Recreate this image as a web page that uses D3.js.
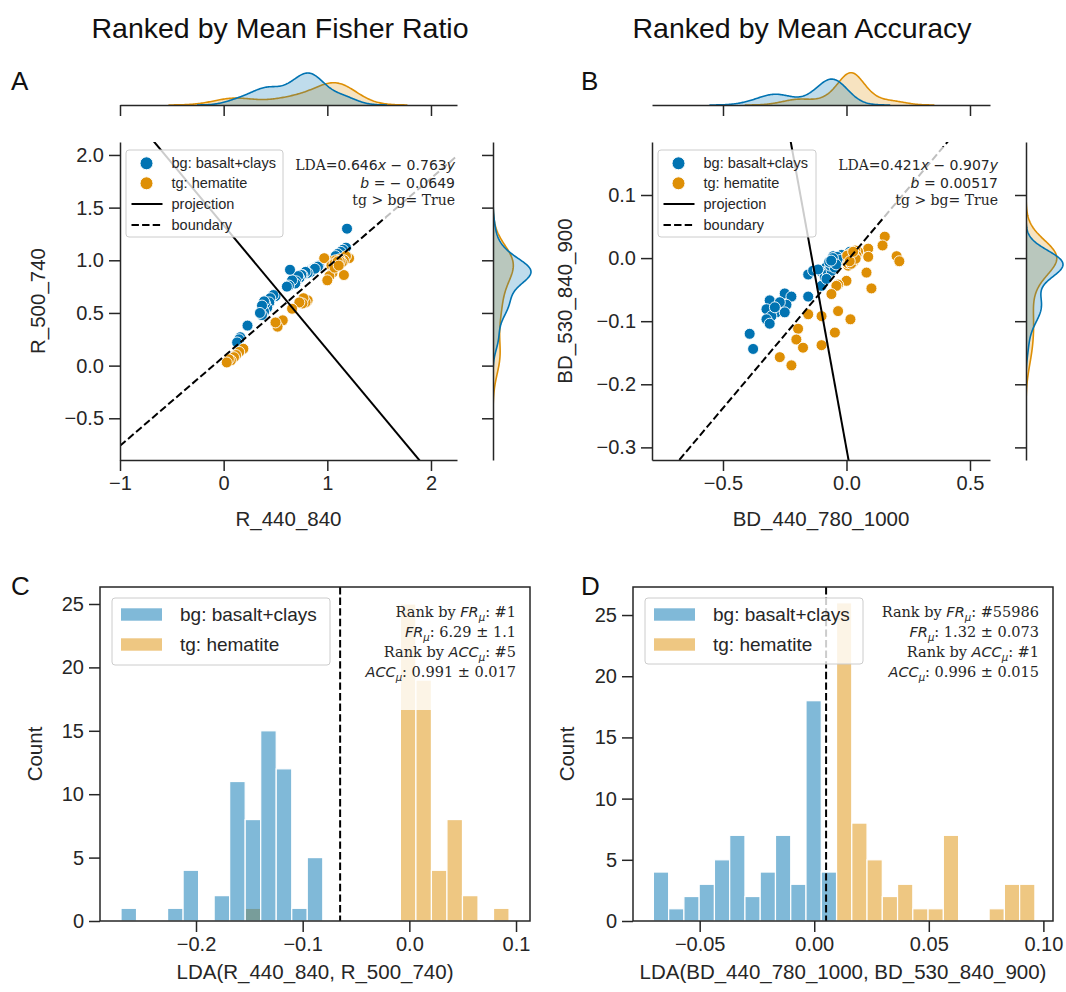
<!DOCTYPE html>
<html><head><meta charset="utf-8">
<script src="https://cdn.jsdelivr.net/npm/d3@7"></script>
<style>body{margin:0;background:#fff}svg{display:block}</style>
</head><body>
<svg id="c" width="1066" height="992"></svg>
<script>
// ---------------- DATA ----------------
const bgA = [[1.19,1.30],[1.18,1.12],[1.15,1.10],[1.13,1.08],[1.10,1.06],[1.08,1.04],
[0.92,0.95],[0.90,0.94],[0.88,0.93],[0.86,0.92],[0.84,0.90],[0.85,0.91],[0.82,0.89],[0.80,0.88],
[0.87,0.92],[0.89,0.93],[0.83,0.90],[0.86,0.91],[0.91,0.94],[0.84,0.89],[0.88,0.92],[0.81,0.88],
[0.79,0.89],[0.76,0.86],[0.75,0.86],[0.73,0.83],[0.72,0.85],[0.70,0.80],[0.69,0.78],[0.66,0.81],[0.64,0.91],[0.63,0.76],[0.61,0.75],
[0.50,0.66],[0.48,0.67],[0.45,0.64],[0.44,0.60],[0.42,0.55],[0.40,0.59],[0.39,0.61],[0.39,0.51],[0.37,0.57],[0.37,0.48],[0.35,0.50],
[0.23,0.38],[0.16,0.27],[0.15,0.25],[0.13,0.22]];
const tgA = [[1.21,1.02],[1.18,1.04],[1.16,1.00],[1.12,1.01],[1.10,0.97],[1.05,0.98],[1.03,0.99],[0.97,1.02],[1.08,1.00],[1.14,0.98],
[1.06,0.96],[1.09,0.98],[1.12,0.99],[1.04,0.95],[1.07,0.97],[1.10,0.99],
[1.16,0.86],[1.05,0.88],[1.02,0.85],[1.00,0.81],[1.07,0.93],[1.11,0.95],
[0.81,0.62],[0.79,0.60],[0.77,0.64],[0.76,0.59],[0.73,0.60],[0.66,0.54],
[0.57,0.43],[0.52,0.37],[0.50,0.41],
[0.19,0.16],[0.15,0.13],[0.12,0.10],[0.10,0.08],[0.07,0.05],[0.05,0.06],[0.03,0.03]];
const bgB = [[0.014,0.010],[-0.054,0.003],[-0.007,0.002],[-0.020,0.005],[-0.035,-0.002],
[-0.061,-0.011],[-0.081,-0.014],[-0.101,-0.022],[-0.088,-0.030],[-0.041,-0.006],[-0.068,-0.017],[-0.050,-0.010],[-0.075,-0.025],[-0.030,0.000],[-0.060,-0.020],
[-0.045,-0.004],[-0.058,-0.008],[-0.038,0.002],[-0.065,-0.012],[-0.048,-0.015],[-0.025,-0.003],[-0.070,-0.006],[-0.055,0.000],[-0.042,-0.010],[-0.062,-0.004],
[-0.155,-0.026],[-0.135,-0.020],[-0.115,-0.018],[-0.101,-0.044],[-0.081,-0.033],[-0.155,-0.061],
[-0.250,-0.056],[-0.223,-0.061],[-0.243,-0.074],[-0.311,-0.067],[-0.324,-0.081],[-0.284,-0.086],[-0.304,-0.092],[-0.324,-0.097],[-0.311,-0.104],[-0.250,-0.086],[-0.270,-0.070],[-0.290,-0.078],
[-0.392,-0.120],[-0.378,-0.144]];
const tgB = [[0.155,0.034],[0.146,0.020],[0.088,0.015],[0.088,0.002],[0.047,0.010],[0.014,-0.006],[0.007,-0.012],[0.203,0.003],[0.214,-0.005],[0.081,-0.023],
[0.000,-0.036],[-0.034,-0.042],[-0.041,-0.044],[-0.061,-0.057],[0.101,-0.048],[-0.155,-0.089],[-0.101,-0.092],[-0.034,-0.084],[0.016,-0.097],
[-0.196,-0.112],[-0.203,-0.129],[-0.176,-0.142],[-0.047,-0.118],[-0.101,-0.138],[-0.270,-0.157],[-0.223,-0.170],
[0.020,0.005],[0.030,0.008],[0.010,0.000],[0.025,-0.002],[0.035,0.012],[0.005,-0.008],[0.040,0.004],[0.018,-0.004],
[0.012,0.003],[0.022,0.001],[0.028,-0.006],[0.015,0.007],[0.008,-0.003],[0.032,0.002],[0.019,-0.009],[0.024,0.006],[0.003,0.004],[0.037,-0.001],[0.013,-0.005],[0.027,0.010]];
const wA = [0.646, -0.763], bA = -0.0649, anchorA = [0.62, 0.60];
const wB = [0.421, -0.907], bB = 0.00517, anchorB = [-0.114, -0.0565];

const binStartC = -0.2703, binWidthC = 0.01455;
const countsC_bg = [1,0,0,1,4,0,2,11,8,15,12,1,5,0,0,0,0,0,0,0,0,0,0,0,0];
const countsC_tg = [0,0,0,0,0,0,0,0,1,0,0,0,0,0,0,0,0,0,25,19,4,8,2,0,1];
const binStartD = -0.0702, binWidthD = 0.00666;
const countsD_bg = [4,1,2,3,5,7,2,4,7,3,18,4,0,0,0,0,0,0,0,0,0,0,0,0,0];
const countsD_tg = [0,0,0,0,0,0,0,0,0,0,0,0,26,8,5,2,3,1,1,7,0,0,1,3,3];

const xTicksA = [-1,0,1,2], yTicksA = [-0.5,0,0.5,1,1.5,2];
const xTicksB = [-0.5,0,0.5], yTicksB = [-0.3,-0.2,-0.1,0,0.1];
const xTicksC = [-0.2,-0.1,0,0.1], xTicksD = [-0.05,0,0.05,0.10];
const yTicksHist = [0,5,10,15,20,25];
const titles = ["Ranked by Mean Fisher Ratio","Ranked by Mean Accuracy"];
const letters = ["A","B","C","D"];
const legendLabels = ["bg: basalt+clays","tg: hematite","projection","boundary"];

// ---------------- STYLE ----------------
const BLUE="#0173b2", ORANGE="#de8f05", AX="#262626";
const SANS="'Liberation Sans', Arial, Helvetica, sans-serif";
const SERIF="'DejaVu Serif', serif", MATH="'DejaVu Sans', sans-serif";
const TICKFS=20, LABFS=20.5, TICKLEN=11, PAD=5;
const svg = d3.select("#c");
const defs = svg.append("defs");
let clipN=0;
function clip(x0,y0,x1,y1){const id="cl"+(clipN++);defs.append("clipPath").attr("id",id).append("rect").attr("x",x0).attr("y",y0).attr("width",x1-x0).attr("height",y1-y0);return "url(#"+id+")";}
function styleAxis(g){g.selectAll(".domain").attr("stroke",AX).attr("stroke-width",1.5);
 g.selectAll(".tick line").attr("stroke",AX).attr("stroke-width",1.5);
 g.selectAll("text").attr("font-family",SANS).attr("font-size",TICKFS).attr("fill",AX);}
function rich(g,x,y,parts,fs){const t=g.append("text").attr("x",x).attr("y",y).attr("text-anchor","end").attr("font-size",fs).attr("fill",AX);
 parts.forEach(p=>{const s=t.append("tspan").text(p.t).attr("font-family",p.m?MATH:SERIF);
  if(p.i)s.attr("font-style","italic"); if(p.sub){s.attr("dy",4).attr("font-size",fs*0.7);} if(p.up)s.attr("dy",-4);});}
function kde(vals,grid,N){const n=vals.length,sd=d3.deviation(vals),bw=sd*Math.pow(n,-0.2);
 return grid.map(g=>[g,d3.sum(vals,v=>Math.exp(-0.5*((g-v)/bw)**2))/(n*bw*Math.sqrt(2*Math.PI))*n/N]);}
function kdeGrid(vals){const n=vals.length,sd=d3.deviation(vals),bw=sd*Math.pow(n,-0.2);
 const lo=d3.min(vals)-3*bw,hi=d3.max(vals)+3*bw;return d3.range(201).map(i=>lo+(hi-lo)*i/200);}

// titles & letters
svg.append("text").attr("x",280).attr("y",38).attr("text-anchor","middle").attr("font-family",SANS).attr("font-size",28.5).attr("fill","#111").text(titles[0]);
svg.append("text").attr("x",802).attr("y",38).attr("text-anchor","middle").attr("font-family",SANS).attr("font-size",28.5).attr("fill","#111").text(titles[1]);
[[11,90],[581,90],[11,595],[581,595]].forEach((p,i)=>svg.append("text").attr("x",p[0]).attr("y",p[1]).attr("font-family",SANS).attr("font-size",26).attr("fill","#111").text(letters[i]));

function scatterPanel(c){
 const X=d3.scaleLinear(c.xDom,[c.px0,c.px1]), Y=d3.scaleLinear(c.yDom,[c.py1,c.py0]);
 const g=svg.append("g");
 const pg=g.append("g").attr("clip-path",clip(c.px0,c.py0,c.px1,c.py1));
 [[c.bg,BLUE],[c.tg,ORANGE]].forEach(([d,col])=>pg.selectAll(null).data(d).enter().append("circle")
   .attr("cx",p=>X(p[0])).attr("cy",p=>Y(p[1])).attr("r",5.5).attr("fill",col).attr("stroke","#fff").attr("stroke-width",0.9));
 const w=c.w,b=c.b;
 const bnd=c.xDom.map(x=>[x,(b-w[0]*x)/w[1]]);
 pg.append("path").attr("d",d3.line().x(p=>X(p[0])).y(p=>Y(p[1]))(bnd)).attr("stroke","#000").attr("stroke-width",2).attr("stroke-dasharray","7.4,3.2").attr("fill","none");
 const prj=[-20,20].map(t=>[c.anchor[0]+t*w[0],c.anchor[1]+t*w[1]]);
 pg.append("path").attr("d",d3.line().x(p=>X(p[0])).y(p=>Y(p[1]))(prj)).attr("stroke","#000").attr("stroke-width",2).attr("fill","none");
 // legend
 const L=c.leg;
 g.append("rect").attr("x",L[0]).attr("y",L[1]).attr("width",L[2]).attr("height",L[3]).attr("rx",3).attr("fill","#fff").attr("fill-opacity",0.8).attr("stroke","#ccc");
 const lx=L[0]+20.5, tx=L[0]+45.5, rows=[13.3,33.3,54,75].map(d=>L[1]+d);
 g.append("circle").attr("cx",lx).attr("cy",rows[0]).attr("r",6.5).attr("fill",BLUE).attr("stroke","#fff");
 g.append("circle").attr("cx",lx).attr("cy",rows[1]).attr("r",6.5).attr("fill",ORANGE).attr("stroke","#fff");
 g.append("line").attr("x1",lx-15).attr("x2",lx+16).attr("y1",rows[2]).attr("y2",rows[2]).attr("stroke","#000").attr("stroke-width",2);
 g.append("line").attr("x1",lx-15).attr("x2",lx+14).attr("y1",rows[3]).attr("y2",rows[3]).attr("stroke","#000").attr("stroke-width",2).attr("stroke-dasharray","7.4,3.2");
 legendLabels.forEach((s,i)=>g.append("text").attr("x",tx).attr("y",rows[i]+5).attr("font-family",SANS).attr("font-size",14.5).attr("fill",AX).text(s));
 // annotation
 g.append("rect").attr("x",c.ann[0]).attr("y",147).attr("width",c.ann[1]-c.ann[0]).attr("height",71).attr("fill","#fff").attr("fill-opacity",0.75);
 const ax=c.ann[2];
 rich(g,ax,170,[{t:"LDA="},{t:c.lda[0],m:1},{t:"x",m:1,i:1},{t:c.lda[1],m:1},{t:"y",m:1,i:1}],14);
 rich(g,ax,187.5,[{t:"b",m:1,i:1},{t:c.bt,m:1}],14);
 rich(g,ax,205,[{t:"tg > bg= True"}],14);
 // axes
 styleAxis(g.append("g").attr("transform",`translate(0,${c.py1})`).call(d3.axisBottom(X).tickValues(c.xTicks).tickFormat(c.xFmt).tickSize(TICKLEN).tickSizeOuter(0).tickPadding(PAD)));
 styleAxis(g.append("g").attr("transform",`translate(${c.px0},0)`).call(d3.axisLeft(Y).tickValues(c.yTicks).tickFormat(d3.format(".1f")).tickSize(TICKLEN).tickSizeOuter(0).tickPadding(PAD)));
 g.append("text").attr("x",(c.px0+c.px1)/2).attr("y",c.py1+66).attr("text-anchor","middle").attr("font-family",SANS).attr("font-size",LABFS).attr("fill",AX).text(c.xLabel);
 g.append("text").attr("transform",`translate(${c.ylx},${(c.py0+c.py1)/2}) rotate(-90)`).attr("text-anchor","middle").attr("font-family",SANS).attr("font-size",LABFS).attr("fill",AX).text(c.yLabel);
 // top marginal
 const N=c.bg.length+c.tg.length;
 const tg_=g.append("g").attr("clip-path",clip(c.px0,40,c.px1,c.mTopBase));
 const kx=[c.tg,c.bg].map(d=>{const v=d.map(p=>p[0]);return kde(v,kdeGrid(v),N);});
 const mx=d3.max(kx.flat(),p=>p[1]);
 const H=d3.scaleLinear([0,mx],[c.mTopBase,c.mTopPeak]);
 kx.forEach((k,i)=>{const col=i?BLUE:ORANGE;
  tg_.append("path").attr("d",d3.area().x(p=>X(p[0])).y0(c.mTopBase).y1(p=>H(p[1]))(k)).attr("fill",col).attr("fill-opacity",0.25);
  tg_.append("path").attr("d",d3.line().x(p=>X(p[0])).y(p=>H(p[1]))(k)).attr("fill","none").attr("stroke",col).attr("stroke-width",1.6);});
 styleAxis(g.append("g").attr("transform",`translate(0,${c.mTopBase})`).call(d3.axisBottom(X).tickValues(c.xTicks).tickFormat("").tickSize(TICKLEN).tickSizeOuter(0)));
 // right marginal
 const rg=g.append("g").attr("clip-path",clip(c.mRBase,c.py0,c.mRBase+60,c.py1));
 const ky=[c.tg,c.bg].map(d=>{const v=d.map(p=>p[1]);return kde(v,kdeGrid(v),N);});
 const my=d3.max(ky.flat(),p=>p[1]);
 const W=d3.scaleLinear([0,my],[c.mRBase,c.mRPeak]);
 ky.forEach((k,i)=>{const col=i?BLUE:ORANGE;
  rg.append("path").attr("d",d3.area().y(p=>Y(p[0])).x0(c.mRBase).x1(p=>W(p[1]))(k)).attr("fill",col).attr("fill-opacity",0.25);
  rg.append("path").attr("d",d3.line().y(p=>Y(p[0])).x(p=>W(p[1]))(k)).attr("fill","none").attr("stroke",col).attr("stroke-width",1.6);});
 styleAxis(g.append("g").attr("transform",`translate(${c.mRBase},0)`).call(d3.axisLeft(Y).tickValues(c.yTicks).tickFormat("").tickSize(TICKLEN).tickSizeOuter(0)));
}

scatterPanel({px0:120,px1:457,py0:142,py1:460,xDom:[-1,2.251],yDom:[-0.896,2.123],bg:bgA,tg:tgA,w:wA,b:bA,anchor:anchorA,
 xTicks:xTicksA,yTicks:yTicksA,xFmt:d3.format("d"),xLabel:"R_440_840",yLabel:"R_500_740",ylx:45,
 leg:[126,150,157,87],ann:[288,462,455],lda:["0.646"," − 0.763"],bt:" = − 0.0649",
 mTopBase:105,mTopPeak:73,mRBase:493,mRPeak:531});
scatterPanel({px0:652,px1:990,py0:142,py1:460,xDom:[-0.7874,0.581],yDom:[-0.320,0.184],bg:bgB,tg:tgB,w:wB,b:bB,anchor:anchorB,
 xTicks:xTicksB,yTicks:yTicksB,xFmt:d3.format(".1f"),xLabel:"BD_440_780_1000",yLabel:"BD_530_840_900",ylx:572,
 leg:[658,150,158,87],ann:[825,1002,998],lda:["0.421"," − 0.907"],bt:" = 0.00517",
 mTopBase:105,mTopPeak:72.7,mRBase:1026,mRPeak:1063});

function histPanel(c){
 const X=d3.scaleLinear(c.xDom,[c.px0,c.px1]), Y=d3.scaleLinear(c.yDom,[c.py1,c.py0]);
 const g=svg.append("g");
 const bars=g.append("g").attr("clip-path",clip(c.px0,c.py0,c.px1,c.py1));
 [[c.ctg,ORANGE],[c.cbg,BLUE]].forEach(([cnt,col])=>bars.selectAll(null).data(cnt.map((v,i)=>[i,v]).filter(d=>d[1]>0)).enter().append("rect")
  .attr("x",d=>X(c.start+d[0]*c.width)).attr("width",d=>X(c.start+(d[0]+1)*c.width)-X(c.start+d[0]*c.width))
  .attr("y",d=>Y(d[1])).attr("height",d=>Y(0)-Y(d[1])).attr("fill",col).attr("fill-opacity",0.5).attr("stroke","#fff").attr("stroke-width",1.2));
 g.append("line").attr("x1",X(c.b)).attr("x2",X(c.b)).attr("y1",c.py0).attr("y2",c.py1).attr("stroke","#000").attr("stroke-width",2).attr("stroke-dasharray","7.4,3.2");
 // annotation
 g.append("rect").attr("x",c.ann[0]).attr("y",592).attr("width",c.ann[1]-c.ann[0]).attr("height",118).attr("fill","#fff").attr("fill-opacity",0.8);
 const ax=c.ann[2];
 rich(g,ax,617,[{t:"Rank by "},{t:"FR",m:1,i:1},{t:"μ",m:1,i:1,sub:1},{t:": "+c.t[0],up:1}],14.5);
 rich(g,ax,637,[{t:"FR",m:1,i:1},{t:"μ",m:1,i:1,sub:1},{t:": "+c.t[1],up:1}],14.5);
 rich(g,ax,657,[{t:"Rank by "},{t:"ACC",m:1,i:1},{t:"μ",m:1,i:1,sub:1},{t:": "+c.t[2],up:1}],14.5);
 rich(g,ax,677,[{t:"ACC",m:1,i:1},{t:"μ",m:1,i:1,sub:1},{t:": "+c.t[3],up:1}],14.5);
 // legend
 const L=c.leg;
 g.append("rect").attr("x",L[0]).attr("y",L[1]).attr("width",L[2]).attr("height",L[3]).attr("rx",3).attr("fill","#fff").attr("fill-opacity",0.8).attr("stroke","#ccc");
 [[BLUE,0],[ORANGE,1]].forEach(([col,i])=>{const yy=L[1]+16.5+i*30;
  g.append("rect").attr("x",L[0]+9).attr("y",yy-6.2).attr("width",41).attr("height",12.4).attr("fill",col).attr("fill-opacity",0.5);
  g.append("text").attr("x",L[0]+68).attr("y",yy+6.5).attr("font-family",SANS).attr("font-size",19).attr("fill",AX).text(legendLabels[i]);});
 // frame & axes
 g.append("rect").attr("x",c.px0).attr("y",c.py0).attr("width",c.px1-c.px0).attr("height",c.py1-c.py0).attr("fill","none").attr("stroke",AX).attr("stroke-width",1.5);
 styleAxis(g.append("g").attr("transform",`translate(0,${c.py1})`).call(d3.axisBottom(X).tickValues(c.xTicks).tickFormat(c.xFmt).tickSize(TICKLEN).tickSizeOuter(0).tickPadding(PAD)));
 styleAxis(g.append("g").attr("transform",`translate(${c.px0},0)`).call(d3.axisLeft(Y).tickValues(yTicksHist).tickFormat(d3.format("d")).tickSize(TICKLEN).tickSizeOuter(0).tickPadding(PAD)));
 g.selectAll(".domain").remove();
 g.append("text").attr("x",(c.px0+c.px1)/2).attr("y",c.py1+58).attr("text-anchor","middle").attr("font-family",SANS).attr("font-size",LABFS).attr("fill",AX).text(c.xLabel);
 g.append("text").attr("transform",`translate(${c.ylx},${(c.py0+c.py1)/2}) rotate(-90)`).attr("text-anchor","middle").attr("font-family",SANS).attr("font-size",LABFS).attr("fill",AX).text("Count");
}
histPanel({px0:100,px1:530,py0:587,py1:921,xDom:[-0.29,0.1131],yDom:[0,26.34],start:binStartC,width:binWidthC,cbg:countsC_bg,ctg:countsC_tg,b:bA,
 xTicks:xTicksC,xFmt:d3.format(".1f"),xLabel:"LDA(R_440_840, R_500_740)",ylx:42,leg:[112,598,218,67],ann:[356,528,516],
 t:["#1","6.29 ± 1.1","#5","0.991 ± 0.017"]});
histPanel({px0:633,px1:1053,py0:587,py1:921,xDom:[-0.0791,0.1042],yDom:[0,27.29],start:binStartD,width:binWidthD,cbg:countsD_bg,ctg:countsD_tg,b:bB,
 xTicks:xTicksD,xFmt:d3.format(".2f"),xLabel:"LDA(BD_440_780_1000, BD_530_840_900)",ylx:574,leg:[645,598,218,66],ann:[880,1050,1039],
 t:["#55986","1.32 ± 0.073","#1","0.996 ± 0.015"]});
</script>
</body></html>
